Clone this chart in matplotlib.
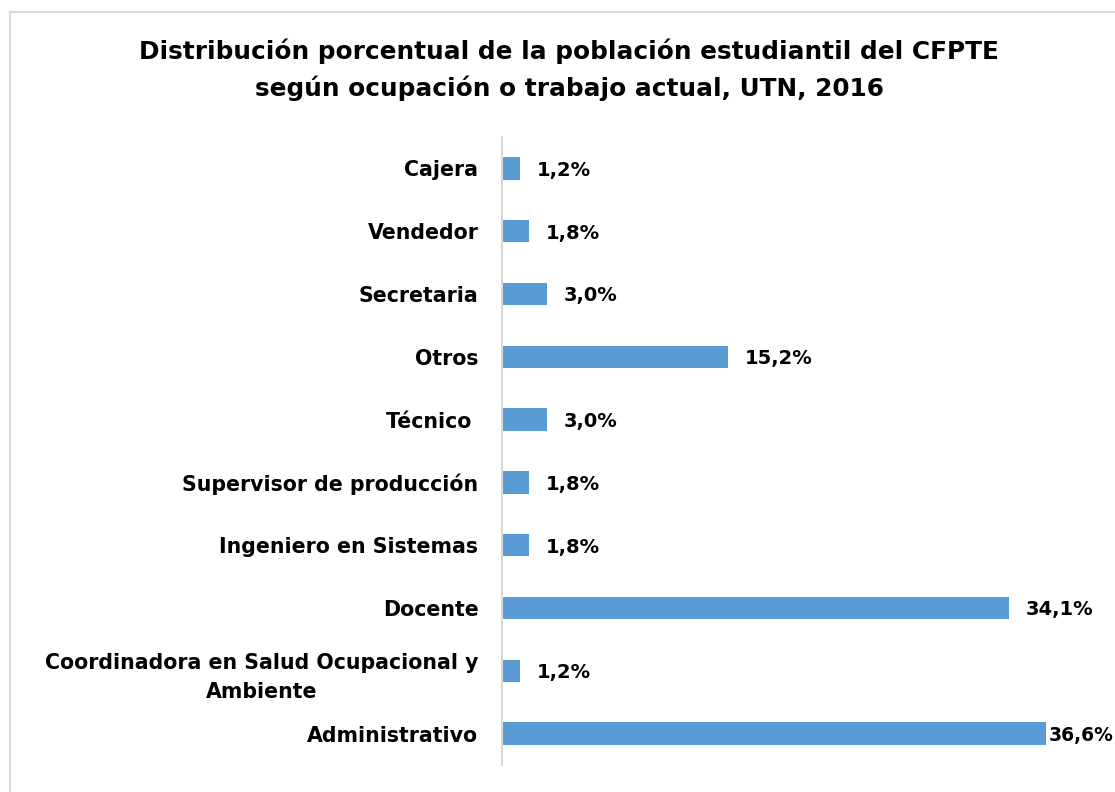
import matplotlib
matplotlib.use("Agg")
import matplotlib.pyplot as plt
from matplotlib.patches import Rectangle

categories = ["Administrativo", "Coordinadora en Salud Ocupacional y\nAmbiente", "Docente",
              "Ingeniero en Sistemas", "Supervisor de producción", "Técnico ", "Otros",
              "Secretaria", "Vendedor", "Cajera"]
values = [36.6, 1.2, 34.1, 1.8, 1.8, 3.0, 15.2, 3.0, 1.8, 1.2]
value_labels = ["36,6%", "1,2%", "34,1%", "1,8%", "1,8%", "3,0%", "15,2%", "3,0%", "1,8%", "1,2%"]
title = "Distribución porcentual de la población estudiantil del CFPTE\nsegún ocupación o trabajo actual, UTN, 2016"

plt.rcParams['font.family'] = ['DejaVu Sans']
W, H = 1115, 792
fig = plt.figure(figsize=(W / 100, H / 100), dpi=100)

# outer chart border
fig.patches.append(Rectangle((10 / W, -0.1), 1.2, (H - 12) / H + 0.1, transform=fig.transFigure,
                             fill=False, edgecolor="#D9D9D9", linewidth=1.5))

ax = fig.add_axes([502 / W, 1 - 765 / H, 544 / W, 628 / H])
y = list(range(len(categories)))
ax.barh(y, values, height=0.355, color="#5B9BD5")
ax.set_xlim(0, 36.6)
ax.set_ylim(-0.5, len(categories) - 0.5)
ax.set_yticks(y)
ax.set_yticklabels(categories, fontsize=14.8, fontweight="bold", multialignment="center",
                   linespacing=1.55)
ax.tick_params(axis="y", length=0, pad=17)
ax.set_xticks([])
for s in ["top", "right", "bottom"]:
    ax.spines[s].set_visible(False)
ax.spines["left"].set_color("#D9D9D9")
ax.spines["left"].set_linewidth(1.5)

for yi, v, lab in zip(y, values, value_labels):
    off = 12 if v < 36 else 2
    fs = 14 if v < 36 else 13.5
    ax.annotate(lab, (v, yi - 0.03), xytext=(off, 0), textcoords="offset points",
                va="center", ha="left", fontsize=fs, fontweight="bold", annotation_clip=False)

fig.text(569 / W, 1 - 70 / H, title, ha="center", va="center", fontsize=17.8,
         fontweight="bold", linespacing=1.55)

fig.savefig("out.png", dpi=100)
